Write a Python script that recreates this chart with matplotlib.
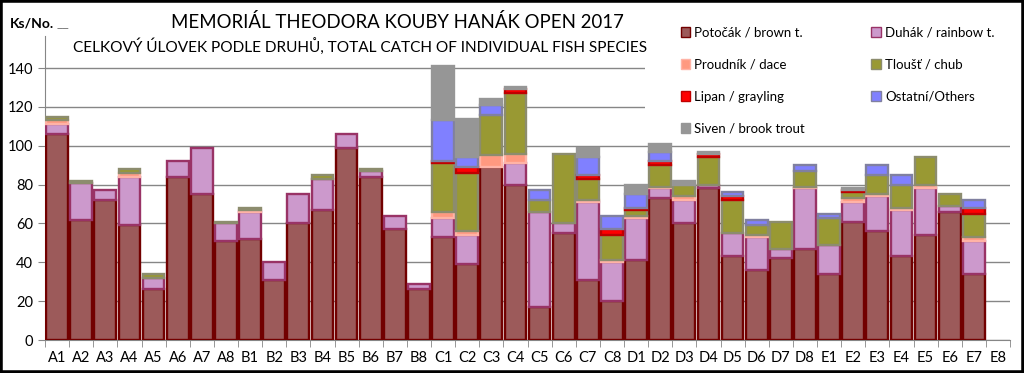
import numpy as np
import matplotlib.pyplot as plt
from matplotlib.patches import Patch, Rectangle

plt.rcParams['font.family'] = ['Lato', 'DejaVu Sans']

# data
teams = ['A1', 'A2', 'A3', 'A4', 'A5', 'A6', 'A7', 'A8',
         'B1', 'B2', 'B3', 'B4', 'B5', 'B6', 'B7', 'B8',
         'C1', 'C2', 'C3', 'C4', 'C5', 'C6', 'C7', 'C8',
         'D1', 'D2', 'D3', 'D4', 'D5', 'D6', 'D7', 'D8',
         'E1', 'E2', 'E3', 'E4', 'E5', 'E6', 'E7', 'E8']
brown = [106, 62, 72, 59, 26, 84, 75, 51,
         52, 31, 60, 67, 99, 84, 57, 26,
         53, 39, 89, 80, 17, 55, 31, 20,
         41, 73, 60, 78, 43, 36, 42, 47,
         34, 61, 56, 43, 54, 66, 34, 0]
rainbow = [5, 19, 5, 25, 6, 8, 24, 9,
           14, 9, 15, 16, 7, 3, 7, 3,
           10, 15, 0, 11, 49, 5, 40, 20,
           22, 5, 12, 2, 12, 17, 5, 31,
           15, 10, 18, 24, 24, 3, 17, 0]
dace = [2, 0, 0, 2, 0, 0, 0, 0,
        1, 0, 0, 0, 0, 0, 0, 0,
        3, 2, 6, 5, 0, 0, 1, 1,
        1, 1, 2, 0, 0, 1, 0, 1,
        0, 2, 1, 1, 2, 0, 2, 0]
chub = [2, 1, 0, 2, 2, 0, 0, 1,
        1, 0, 0, 2, 0, 1, 0, 0,
        25, 30, 21, 31, 6, 36, 11, 13,
        3, 11, 6, 14, 17, 5, 14, 8,
        14, 3, 10, 12, 14, 6, 12, 0]
grayling = [0, 0, 0, 0, 0, 0, 0, 0,
            0, 0, 0, 0, 0, 0, 0, 0,
            1, 3, 0, 2, 0, 0, 2, 3,
            1, 2, 0, 2, 2, 0, 0, 0,
            0, 1, 0, 0, 0, 0, 3, 0]
others = [0, 0, 0, 0, 0, 0, 0, 0,
          0, 0, 0, 0, 0, 0, 0, 0,
          21, 5, 5, 0, 5, 0, 9, 7,
          7, 5, 0, 0, 2, 3, 0, 3,
          2, 0, 5, 5, 0, 0, 4, 0]
siven = [0, 0, 0, 0, 0, 0, 0, 0,
         0, 0, 0, 0, 0, 0, 0, 0,
         28, 20, 3, 1, 0, 0, 5, 0,
         5, 4, 2, 1, 0, 0, 0, 0,
         0, 1, 0, 0, 0, 0, 0, 0]

species = [
    ('Potočák / brown t.', brown, '#9c5a5a', '#720000'),
    ('Duhák / rainbow t.', rainbow, '#cc99cc', '#993366'),
    ('Proudník / dace', dace, '#ff9980', '#ffb3a6'),
    ('Tloušť / chub', chub, '#999933', '#8c8c6e'),
    ('Lipan / grayling', grayling, '#ff0000', '#c00000'),
    ('Ostatní/Others', others, '#8080ff', '#8080a0'),
    ('Siven / brook trout', siven, '#969696', '#969696'),
]

fig = plt.figure(figsize=(10.24, 3.73), dpi=100)
ax = fig.add_axes([45/1024, 33/373, 965/1024, 304/373])

x = np.arange(len(teams))
bottom = np.zeros(len(teams))
handles = []
for name, vals, fc, ec in species:
    vals = np.array(vals, dtype=float)
    m = vals > 0
    ax.bar(x[m], vals[m], bottom=bottom[m], width=0.9, color=fc,
           edgecolor=ec, linewidth=1.7, zorder=3)
    bottom += vals
    handles.append(Patch(facecolor=fc, edgecolor=ec, linewidth=1, label=name))

ax.set_xlim(-0.5, len(teams) - 0.5)
ax.set_ylim(0, 156.5)
ax.set_yticks(range(0, 141, 20))
ax.yaxis.grid(True, color='#868686', linewidth=1)
ax.set_axisbelow(True)
ax.set_xticks(x)
ax.set_xticklabels(teams, fontsize=10.5)
ax.set_xticks(np.arange(-0.5, len(teams), 1), minor=True)
ax.tick_params(axis='x', which='major', length=0, pad=8)
ax.tick_params(axis='x', which='minor', length=5, color='#868686')
ax.tick_params(axis='y', labelsize=10.5, length=5, color='#868686')
for s in ['top', 'right']:
    ax.spines[s].set_visible(False)
for s in ['left', 'bottom']:
    ax.spines[s].set_color('#868686')

# white area behind the legend hides the upper gridlines
fig.patches.append(Rectangle((645/1024, 1 - 140/373), 372/1024, 132/373,
                             transform=fig.transFigure, facecolor='white',
                             edgecolor='none', zorder=2))

# legend row-wise like the original
order = [0, 2, 4, 6, 1, 3, 5]
leg = fig.legend([handles[i] for i in order], [handles[i].get_label() for i in order],
                 loc='upper left', bbox_to_anchor=(666/1024, 1 - 12/373), ncol=2,
                 fontsize=9.5, frameon=False, handlelength=0.75, handleheight=0.75,
                 handletextpad=0.3, labelspacing=1.52, columnspacing=5.0,
                 borderpad=0.6)
leg.set_zorder(5)

fig.text(397/1024, 1 - 22/373, 'MEMORIÁL THEODORA KOUBY HANÁK OPEN 2017',
         ha='center', va='center', fontsize=13.4)
fig.text(360/1024, 1 - 47/373, 'CELKOVÝ ÚLOVEK PODLE DRUHŮ, TOTAL CATCH OF INDIVIDUAL FISH SPECIES',
         ha='center', va='center', fontsize=11.1)
fig.text(10/1024, 1 - 24/373, 'Ks/No.', ha='left', va='center',
         fontsize=10, fontweight='bold')
fig.text(57/1024, 1 - 23/373, '__', ha='left', va='center', fontsize=10, color='#7f7f7f')

fig.patches.append(Rectangle((0, 0), 1, 1, transform=fig.transFigure, fill=False,
                             linewidth=4, edgecolor='black', zorder=10))

fig.savefig('out.png', dpi=100, facecolor='white')
